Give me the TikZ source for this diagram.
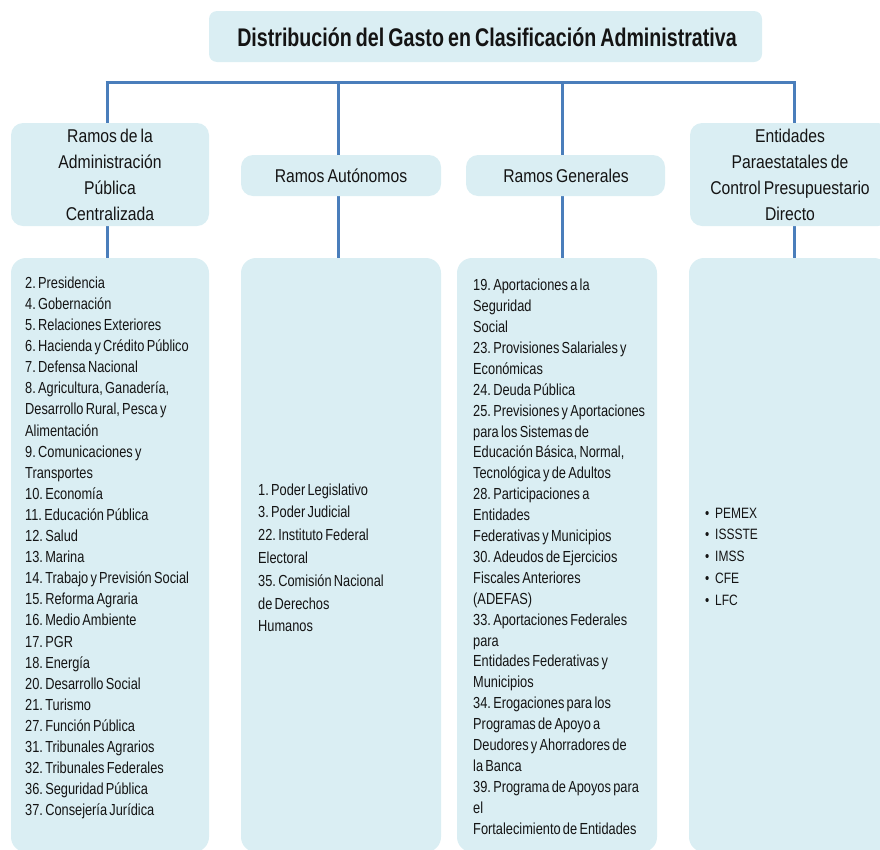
\documentclass[tikz,border=0pt]{standalone}
\usepackage{fontspec}
\setmainfont{Liberation Sans}[FakeStretch=0.8]
\newfontfamily\headfont{Liberation Sans}[FakeStretch=0.85, WordSpace=0.7]
\newfontfamily\titlefont{Liberation Sans}[FakeStretch=0.77, WordSpace=0.75]
\frenchspacing
\usetikzlibrary{backgrounds}
\definecolor{boxblue}{HTML}{DAEEF3}
\definecolor{linkblue}{HTML}{4A7EBB}
\definecolor{inktext}{HTML}{141414}
\begin{document}
\begin{tikzpicture}[x=1pt,y=-1pt,
  panel/.style={fill=boxblue, draw=none, inner sep=0pt, rounded corners=#1},
  panel/.default=12pt,
  headtext/.style={text=inktext, align=center, inner sep=0pt,
    font={\headfont\fontsize{18.5}{26}\selectfont}},
  listtext/.style={text=inktext, align=left, inner sep=0pt, text width=200pt,
    anchor=base west, font={\fontsize{16}{#1}\selectfont},
    execute at begin node={\spaceskip=2.3pt\relax}},
  link/.style={draw=linkblue, line width=3pt}]
\clip (0,0) rectangle (880,849);

% title
\node[panel=8pt, minimum width=553pt, minimum height=51pt] (title) at (485.5,36.5) {};
\node[text=inktext, inner sep=0pt, font={\titlefont\bfseries\fontsize{25.5}{30}\selectfont}]
  (titletext) at (487,37) {Distribución del Gasto en Clasificación Administrativa};

% group headers
\node[panel, minimum width=198pt, minimum height=103pt] (h1) at (110,174.5) {};
\node[panel, minimum width=200pt, minimum height=41pt] (h2) at (341,175.5) {};
\node[panel, minimum width=199pt, minimum height=41pt] (h3) at (565.5,175.5) {};
\node[panel, minimum width=200pt, minimum height=103pt] (h4) at (790,174.5) {};

\node[headtext] (h1t) at (110,175) {Ramos de la\\Administración\\Pública\\Centralizada};
\node[headtext] (h2t) at (341,176) {Ramos Autónomos};
\node[headtext] (h3t) at (566,176) {Ramos Generales};
\node[headtext] (h4t) at (790,175) {Entidades\\Paraestatales de\\Control Presupuestario\\Directo};

% content panels
\node[panel=15pt, minimum width=198pt, minimum height=594pt] (c1) at (110,555) {};
\node[panel=15pt, minimum width=200pt, minimum height=594pt] (c2) at (341,555) {};
\node[panel=15pt, minimum width=200pt, minimum height=594pt] (c3) at (557,555) {};
\node[panel=15pt, minimum width=200pt, minimum height=594pt] (c4) at (789,555) {};

\node[listtext=21.1] (l1) at (25,288.3) {2. Presidencia\\
4. Gobernación\\
5. Relaciones Exteriores\\
6. Hacienda y Crédito Público\\
7. Defensa Nacional\\
8. Agricultura, Ganadería,\\
Desarrollo Rural, Pesca y\\
Alimentación\\
9. Comunicaciones y\\
Transportes\\
10. Economía\\
11. Educación Pública\\
12. Salud\\
13. Marina\\
14. Trabajo y Previsión Social\\
15. Reforma Agraria\\
16. Medio Ambiente\\
17. PGR\\
18. Energía\\
20. Desarrollo Social\\
21. Turismo\\
27. Función Pública\\
31. Tribunales Agrarios\\
32. Tribunales Federales\\
36. Seguridad Pública\\
37. Consejería Jurídica};

\node[listtext=22.8] (l2) at (258,495) {1. Poder Legislativo\\
3. Poder Judicial\\
22. Instituto Federal\\
Electoral\\
35. Comisión Nacional\\
de Derechos\\
Humanos};

\node[listtext=20.9] (l3) at (473,290.7) {19. Aportaciones a la\\
Seguridad\\
Social\\
23. Provisiones Salariales y\\
Económicas\\
24. Deuda Pública\\
25. Previsiones y Aportaciones\\
para los Sistemas de\\
Educación Básica, Normal,\\
Tecnológica y de Adultos\\
28. Participaciones a\\
Entidades\\
Federativas y Municipios\\
30. Adeudos de Ejercicios\\
Fiscales Anteriores\\
(ADEFAS)\\
33. Aportaciones Federales\\
para\\
Entidades Federativas y\\
Municipios\\
34. Erogaciones para los\\
Programas de Apoyo a\\
Deudores y Ahorradores de\\
la Banca\\
39. Programa de Apoyos para\\
el\\
Fortalecimiento de Entidades};

\node[listtext=21.75, font={\fontsize{15}{21.75}\selectfont}] (l4) at (705,518) {%
\makebox[10pt][l]{•}PEMEX\\
\makebox[10pt][l]{•}ISSSTE\\
\makebox[10pt][l]{•}IMSS\\
\makebox[10pt][l]{•}CFE\\
\makebox[10pt][l]{•}LFC};

% connectors
\coordinate (b1) at (107,82.5);
\coordinate (b2) at (338,82.5);
\coordinate (b3) at (562,82.5);
\coordinate (b4) at (794,82.5);
\begin{scope}[on background layer]
  \draw[link] ([xshift=-1.5pt]b1) -- ([xshift=1.5pt]b4);
  \draw[link] (b1) -- (b1 |- c1.north);
  \draw[link] (b2) -- (b2 |- c2.north);
  \draw[link] (b3) -- (b3 |- c3.north);
  \draw[link] (b4) -- (b4 |- c4.north);
\end{scope}
\end{tikzpicture}
\end{document}
